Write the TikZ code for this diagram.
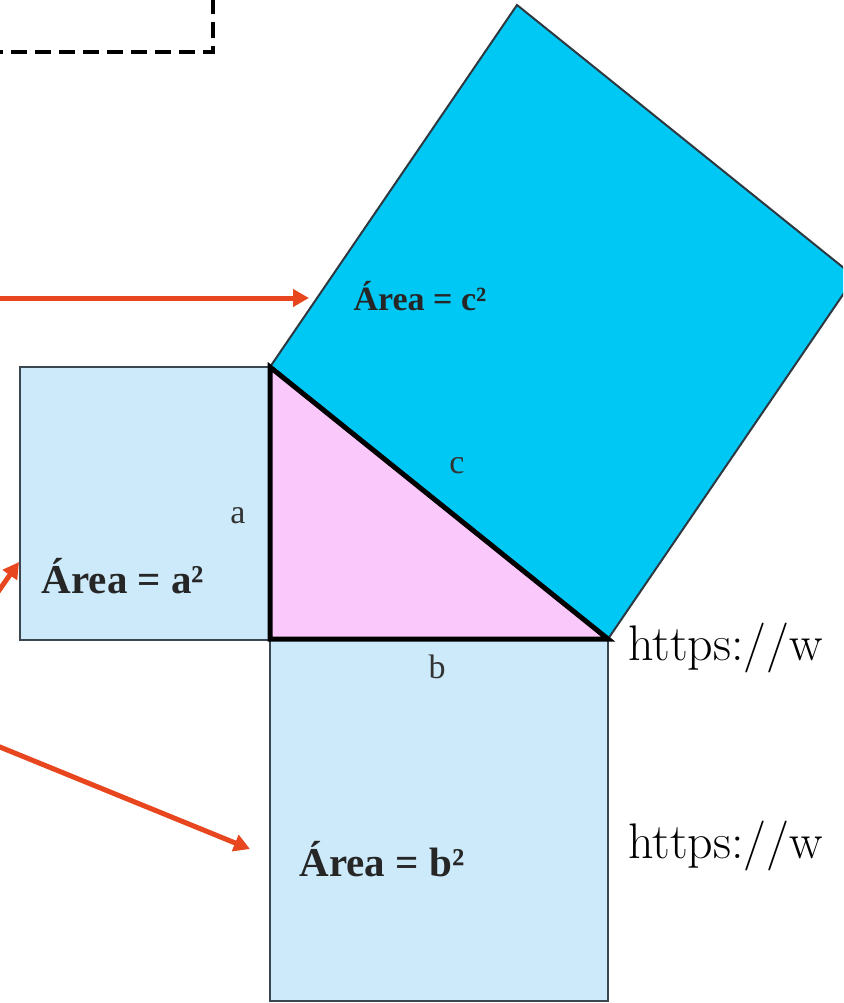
\documentclass[tikz,border=0pt]{standalone}
\usepackage{fontspec}
\newfontfamily\timesfont{Liberation Serif}
\usetikzlibrary{arrows.meta}
\definecolor{lightsq}{HTML}{CCEAFA}
\definecolor{pinktri}{HTML}{FAC8FA}
\definecolor{cyansq}{HTML}{00C8F5}
\definecolor{redarrow}{HTML}{E8461E}
\definecolor{edgegray}{HTML}{3A4650}
\tikzset{
  sqa/.style={fill=lightsq, draw=edgegray, line width=2pt},
  sqc/.style={fill=cyansq, draw=edgegray!80!black, line width=2pt},
  leg/.style={draw=black, line width=5pt, line join=miter},
  arealabel/.style={font=\timesfont\bfseries\fontsize{41}{44}\selectfont, text=black!85, inner sep=0pt},
  sidelabel/.style={font=\timesfont\fontsize{34}{38}\selectfont, text=black!80, inner sep=0pt},
  urltext/.style={font=\fontsize{50}{54}\selectfont, inner sep=0pt, anchor=base west},
  redarr/.style={draw=redarrow, line width=5pt, -{Triangle[length=16pt,width=17pt]}},
  dashbox/.style={draw=black, line width=4pt, dash pattern=on 16pt off 8pt}
}
\begin{document}
\begin{tikzpicture}[x=1pt,y=-1pt]
\clip (0,0) rectangle (843,1003);
\fill[white] (0,0) rectangle (843,1003);
% triangle vertices
\coordinate (A) at (270,367);
\coordinate (B) at (270,639);
\coordinate (C) at (608,639);
\coordinate (T) at (517,5);
\coordinate (R) at (855,277);
% squares
\path[sqa] (20,367) rectangle (270,640);
\path[sqa] (270,639) rectangle (608,1001);
\path[sqc] (A) -- (T) -- (R) -- (C) -- cycle;
% triangle
\fill[pinktri] (A) -- (B) -- (C) -- cycle;
\draw[leg] (A) -- (B) -- (C) -- cycle;
% dashed box corner
\coordinate (d1) at (213,-2);
\coordinate (d2) at (213,52);
\coordinate (d3) at (-2,52);
\draw[dashbox] (d1) -- (d2) -- (d3);
% labels
\node[arealabel, font=\timesfont\bfseries\fontsize{34}{37}\selectfont] (c2) at (420,296) {Área = c²};
\node[arealabel] (a2) at (123,576) {Área = a²};
\node[arealabel] (b2) at (382,859) {Área = b²};
\node[sidelabel] (la) at (238,516) {a};
\node[sidelabel] (lb) at (437,667) {b};
\node[sidelabel] (lc) at (457,466) {c};
\node[urltext] (u1) at (628,660) {https://w};
\node[urltext] (u2) at (628,858) {https://w};
% arrows
\coordinate (s1) at (-5,298);
\coordinate (t1) at (309,298);
\coordinate (s2) at (-12,606);
\coordinate (t2) at (19,562);
\coordinate (s3) at (-5,745);
\coordinate (t3) at (250,849);
\draw[redarr] (s1) -- (t1);
\draw[redarr] (s2) -- (t2);
\draw[redarr] (s3) -- (t3);
\end{tikzpicture}
\end{document}
